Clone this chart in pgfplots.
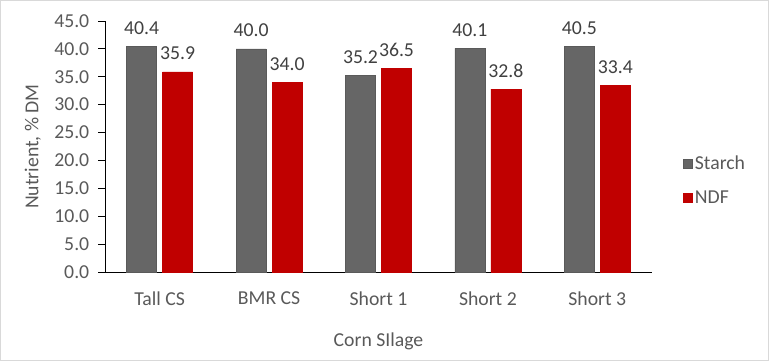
\documentclass[border=0pt]{standalone}
\usepackage{fontspec}
\setmainfont{Carlito}
\usepackage{pgfplots}
\pgfplotsset{compat=1.18}
\definecolor{starch}{HTML}{666666}
\definecolor{starchedge}{HTML}{5A5A5A}
\definecolor{ndf}{HTML}{C00000}
\definecolor{txt}{HTML}{595959}
\definecolor{lbl}{HTML}{404040}
\definecolor{frame}{HTML}{D9D9D9}
\newcommand{\cf}{\fontsize{19.8}{23}\selectfont}
\begin{document}
\cf
\begin{tikzpicture}[x=1bp,y=1bp,font=\cf]
\draw[frame, line width=1bp] (0.5,0.5) rectangle (768.5,360.5);
\path[use as bounding box] (0,0) rectangle (769,361);
\begin{axis}[
  at={(105bp,89bp)}, anchor=south west,
  scale only axis, width=547bp, height=251bp,
  ymin=0, ymax=45, ytick={0,5,...,45},
  xmin=-0.5, xmax=4.5, xtick={0,1,2,3,4},
  xticklabels={Tall CS, BMR CS, Short 1, Short 2, Short 3},
  axis x line*=bottom, axis y line*=left,
  axis line style={black, line width=1bp, -},
  xtick style={draw=none},
  ytick style={black, line width=1bp},
  tick align=outside, major tick length=7bp,
  /pgf/number format/.cd, fixed, fixed zerofill, precision=1, assume math mode=true, /pgfplots/.cd,
  ticklabel style={text=txt, font=\cf},
  xticklabel style={yshift=-6bp},
  yticklabel style={xshift=-2bp},
  xlabel={Corn SIlage}, ylabel={Nutrient, \% DM},
  label style={text=txt, font=\cf},
  xlabel style={yshift=-14bp},
  ylabel style={yshift=0bp},
  ybar=6bp, bar width=30bp,
  nodes near coords,
  every node near coord/.append style={text=lbl, font=\cf, anchor=base, yshift=12bp},
  legend style={at={(1.057,0.363)}, anchor=west, draw=none, fill=none,
    font=\cf, text=txt, row sep=14bp, inner sep=0pt,
    nodes={inner sep=2bp}},
  legend cell align=left,
  legend image code/.code={\fill[#1] (0bp,-4bp) rectangle (9bp,5bp);},
]
\addplot[fill=starch, draw=starchedge, line width=0.5bp] coordinates {(0,40.4) (1,40.0) (2,35.2) (3,40.1) (4,40.5)};
\addplot[fill=ndf, draw=ndf, line width=0.5bp] coordinates {(0,35.9) (1,34.0) (2,36.5) (3,32.8) (4,33.4)};
\legend{Starch, NDF}
\end{axis}
\end{tikzpicture}
\end{document}
